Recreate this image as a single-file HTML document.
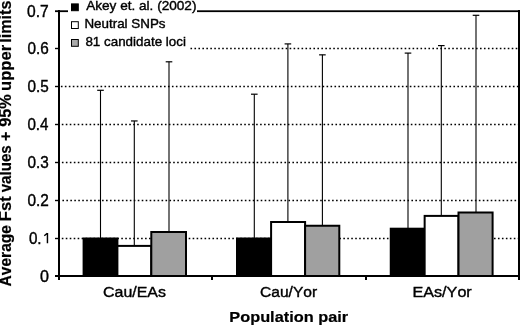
<!DOCTYPE html>
<html><head><meta charset="utf-8"><style>
html,body{margin:0;padding:0;background:#fff;width:520px;height:325px;overflow:hidden}
svg{display:block;font-family:"Liberation Sans",sans-serif;filter:grayscale(1)}
text{stroke:#000;stroke-width:0.4px;font-kerning:none;font-feature-settings:"kern" 0}
text[font-weight=bold]{stroke-width:0.2px}
</style></head><body>
<svg width="520" height="325" viewBox="0 0 520 325">
<rect width="520" height="325" fill="#fff"/>
<line x1="61.80" y1="238.5" x2="518" y2="238.5" stroke="#000" stroke-width="1.4" stroke-dasharray="1.6 2.365"/>
<line x1="62.40" y1="200.5" x2="518" y2="200.5" stroke="#000" stroke-width="1.4" stroke-dasharray="1.6 2.366"/>
<line x1="61.90" y1="162.5" x2="518" y2="162.5" stroke="#000" stroke-width="1.4" stroke-dasharray="1.6 2.374"/>
<line x1="61.80" y1="124.5" x2="518" y2="124.5" stroke="#000" stroke-width="1.4" stroke-dasharray="1.6 2.366"/>
<line x1="60.90" y1="86.5" x2="518" y2="86.5" stroke="#000" stroke-width="1.4" stroke-dasharray="1.6 2.365"/>
<line x1="59.60" y1="48.5" x2="518" y2="48.5" stroke="#000" stroke-width="1.4" stroke-dasharray="1.6 2.366"/>
<rect x="83.60" y="238.5" width="33.80" height="37.50" fill="#000" stroke="#000" stroke-width="2"/>
<rect x="117.40" y="245.9" width="33.90" height="30.10" fill="#fff" stroke="#000" stroke-width="2"/>
<rect x="151.30" y="232.0" width="34.70" height="44.00" fill="#a0a0a0" stroke="#000" stroke-width="2"/>
<rect x="237.00" y="238.5" width="34.10" height="37.50" fill="#000" stroke="#000" stroke-width="2"/>
<rect x="271.10" y="222.0" width="34.00" height="54.00" fill="#fff" stroke="#000" stroke-width="2"/>
<rect x="305.10" y="225.75" width="34.20" height="50.25" fill="#a0a0a0" stroke="#000" stroke-width="2"/>
<rect x="390.75" y="228.7" width="33.90" height="47.30" fill="#000" stroke="#000" stroke-width="2"/>
<rect x="424.65" y="215.9" width="33.85" height="60.10" fill="#fff" stroke="#000" stroke-width="2"/>
<rect x="458.50" y="212.5" width="34.10" height="63.50" fill="#a0a0a0" stroke="#000" stroke-width="2"/>
<line x1="100.5" y1="238.5" x2="100.5" y2="90.3" stroke="#000" stroke-width="1.1"/>
<line x1="97.20" y1="90.3" x2="103.80" y2="90.3" stroke="#000" stroke-width="1.2"/>
<line x1="134.3" y1="245.9" x2="134.3" y2="120.95" stroke="#000" stroke-width="1.1"/>
<line x1="131.00" y1="120.95" x2="137.60" y2="120.95" stroke="#000" stroke-width="1.2"/>
<line x1="169.0" y1="232.0" x2="169.0" y2="61.8" stroke="#000" stroke-width="1.1"/>
<line x1="165.70" y1="61.8" x2="172.30" y2="61.8" stroke="#000" stroke-width="1.2"/>
<line x1="254.3" y1="238.5" x2="254.3" y2="94.2" stroke="#000" stroke-width="1.1"/>
<line x1="251.00" y1="94.2" x2="257.60" y2="94.2" stroke="#000" stroke-width="1.2"/>
<line x1="287.9" y1="222.0" x2="287.9" y2="43.9" stroke="#000" stroke-width="1.1"/>
<line x1="284.60" y1="43.9" x2="291.20" y2="43.9" stroke="#000" stroke-width="1.2"/>
<line x1="322.4" y1="225.75" x2="322.4" y2="54.85" stroke="#000" stroke-width="1.1"/>
<line x1="319.10" y1="54.85" x2="325.70" y2="54.85" stroke="#000" stroke-width="1.2"/>
<line x1="408.0" y1="228.7" x2="408.0" y2="53.1" stroke="#000" stroke-width="1.1"/>
<line x1="404.70" y1="53.1" x2="411.30" y2="53.1" stroke="#000" stroke-width="1.2"/>
<line x1="441.3" y1="215.9" x2="441.3" y2="45.6" stroke="#000" stroke-width="1.1"/>
<line x1="438.00" y1="45.6" x2="444.60" y2="45.6" stroke="#000" stroke-width="1.2"/>
<line x1="476.0" y1="212.5" x2="476.0" y2="15.3" stroke="#000" stroke-width="1.1"/>
<line x1="472.70" y1="15.3" x2="479.30" y2="15.3" stroke="#000" stroke-width="1.2"/>
<rect x="55" y="10.3" width="465" height="1.8" fill="#000"/>
<rect x="518" y="10" width="2" height="270" fill="#000"/>
<rect x="58" y="10" width="2" height="270" fill="#000"/>
<rect x="55" y="275" width="465" height="2" fill="#000"/>
<rect x="55" y="237.8" width="4" height="1.4" fill="#000"/>
<rect x="55" y="199.8" width="4" height="1.4" fill="#000"/>
<rect x="55" y="161.8" width="4" height="1.4" fill="#000"/>
<rect x="55" y="123.8" width="4" height="1.4" fill="#000"/>
<rect x="55" y="85.8" width="4" height="1.4" fill="#000"/>
<rect x="55" y="47.8" width="4" height="1.4" fill="#000"/>
<rect x="211" y="275" width="2" height="5" fill="#000"/>
<rect x="365" y="275" width="2" height="5" fill="#000"/>
<rect x="68" y="0" width="129" height="20" fill="#fff"/>
<rect x="60" y="20" width="130" height="34" fill="#fff"/>
<rect x="71.5" y="3.9" width="6.8" height="6.8" fill="#000" stroke="#000" stroke-width="1"/>
<text x="86.17" y="10.00" font-size="13.6" textLength="110.29" lengthAdjust="spacingAndGlyphs">Akey et. al. (2002)</text>
<rect x="71.5" y="21.7" width="6.8" height="6.8" fill="#fff" stroke="#000" stroke-width="1"/>
<text x="84.40" y="27.70" font-size="13.6" textLength="81.18" lengthAdjust="spacingAndGlyphs">Neutral SNPs</text>
<rect x="71.5" y="39.5" width="6.8" height="6.8" fill="#aaaaaa" stroke="#000" stroke-width="1"/>
<text x="85.41" y="45.60" font-size="13.6" textLength="100.49" lengthAdjust="spacingAndGlyphs">81 candidate loci</text>
<text x="39.96" y="282.27" font-size="16.3" textLength="8.96" lengthAdjust="spacingAndGlyphs">0</text>
<text x="28.89" y="243.97" font-size="16.3" textLength="12.71" lengthAdjust="spacingAndGlyphs">0.</text>
<path d="M47.45 232.9V243.3M47.3 233.3L44.3 235.7" stroke="#000" stroke-width="1.45" fill="none"/>
<text x="27.38" y="205.97" font-size="16.3" textLength="21.39" lengthAdjust="spacingAndGlyphs">0.2</text>
<text x="27.39" y="167.97" font-size="16.3" textLength="21.29" lengthAdjust="spacingAndGlyphs">0.3</text>
<text x="27.39" y="129.97" font-size="16.3" textLength="21.06" lengthAdjust="spacingAndGlyphs">0.4</text>
<text x="27.39" y="91.97" font-size="16.3" textLength="21.26" lengthAdjust="spacingAndGlyphs">0.5</text>
<text x="27.39" y="53.97" font-size="16.3" textLength="21.29" lengthAdjust="spacingAndGlyphs">0.6</text>
<text x="27.08" y="17.27" font-size="16.3" textLength="21.71" lengthAdjust="spacingAndGlyphs">0.7</text>
<text x="103.00" y="296.60" font-size="15.3" textLength="62.98" lengthAdjust="spacingAndGlyphs">Cau/EAs</text>
<text x="260.02" y="296.60" font-size="15.3" textLength="57.14" lengthAdjust="spacingAndGlyphs">Cau/Yor</text>
<text x="412.47" y="296.60" font-size="15.3" textLength="59.28" lengthAdjust="spacingAndGlyphs">EAs/Yor</text>
<text x="229.32" y="321.60" font-size="15.3" font-weight="bold" textLength="118.84" lengthAdjust="spacingAndGlyphs">Population pair</text>
<g transform="translate(11.4,0) rotate(-90)"><text x="-286.40" y="0.00" font-size="16.0" font-weight="bold" textLength="61.34" lengthAdjust="spacingAndGlyphs">Average</text><text x="-221.20" y="0.00" font-size="16.0" font-weight="bold" textLength="24.89" lengthAdjust="spacingAndGlyphs">Fst</text><text x="-192.36" y="0.00" font-size="16.0" font-weight="bold" textLength="47.05" lengthAdjust="spacingAndGlyphs">values</text><text x="-141.07" y="0.00" font-size="16.0" font-weight="bold" textLength="9.31" lengthAdjust="spacingAndGlyphs">+</text><text x="-126.75" y="0.00" font-size="16.0" font-weight="bold" textLength="32.60" lengthAdjust="spacingAndGlyphs">95%</text><text x="-91.03" y="0.00" font-size="16.0" font-weight="bold" textLength="46.19" lengthAdjust="spacingAndGlyphs">upper</text><text x="-42.73" y="0.00" font-size="16.0" font-weight="bold" textLength="42.17" lengthAdjust="spacingAndGlyphs">limits</text></g>
</svg>
</body></html>
